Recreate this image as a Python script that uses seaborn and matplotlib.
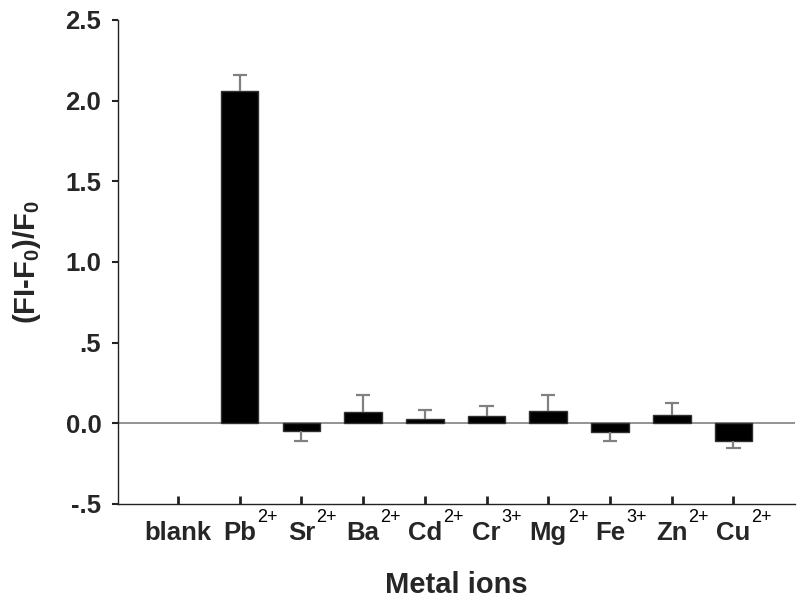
import matplotlib
matplotlib.use("Agg")
import matplotlib.pyplot as plt
import seaborn as sns
import pandas as pd

ions = ["blank", "Pb", "Sr", "Ba", "Cd", "Cr", "Mg", "Fe", "Zn", "Cu"]
charges = ["", "2+", "2+", "2+", "2+", "3+", "2+", "3+", "2+", "2+"]
values = [0.0, 2.06, -0.05, 0.068, 0.029, 0.045, 0.074, -0.056, 0.05, -0.107]
errors = [0.0, 0.10, 0.06, 0.108, 0.054, 0.065, 0.102, 0.054, 0.076, 0.048]
ytick_vals = [-0.5, 0.0, 0.5, 1.0, 1.5, 2.0, 2.5]
ytick_labels = ["-.5", "0.0", ".5", "1.0", "1.5", "2.0", "2.5"]

sns.set_theme(style="ticks")
plt.rcParams["font.family"] = ["Liberation Sans", "DejaVu Sans"]
plt.rcParams["font.weight"] = "bold"
plt.rcParams["mathtext.fontset"] = "custom"
plt.rcParams["mathtext.rm"] = "Liberation Sans:bold"
plt.rcParams["mathtext.it"] = "Liberation Sans:bold"
plt.rcParams["mathtext.bf"] = "Liberation Sans:bold"

df = pd.DataFrame({"ion": ions, "value": values, "err": errors})

fig = plt.figure(figsize=(8, 6.04), dpi=100)
ax = fig.add_axes([0.1475, 0.1656, 0.8465, 0.8013])

ax.axhline(0, color="#808080", lw=1.2, zorder=1)
sns.barplot(data=df, x="ion", y="value", order=ions, color="black", width=0.61,
            edgecolor="#303030", linewidth=1.0, errorbar=None, ax=ax, zorder=2)
for p in ax.patches:
    if p.get_height() == 0:
        p.set_linewidth(0)

cap_half = 0.115
for i, (v, e) in enumerate(zip(values, errors)):
    if e <= 0:
        continue
    end = v + e if v >= 0 else v - e
    ax.vlines(i, v, end, color="#808080", lw=1.6, zorder=3)
    ax.hlines(end, i - cap_half, i + cap_half, color="#808080", lw=1.6, zorder=3)

ax.set_xlim(-0.97, 10.0)
ax.set_ylim(-0.5, 2.5)
ax.set_yticks(ytick_vals)
ax.set_yticklabels(ytick_labels)
ax.tick_params(axis="y", direction="out", length=4, width=1.5, labelsize=18.5, pad=8,
               color="#222222")
ax.tick_params(axis="x", direction="in", length=6, width=2, labelsize=18.5, pad=12,
               color="#222222")
for lab in ax.get_xticklabels() + ax.get_yticklabels():
    lab.set_fontweight("bold")

sns.despine(ax=ax)
for s in ["left", "bottom"]:
    ax.spines[s].set_linewidth(1.0)
    ax.spines[s].set_color("#222222")

ax.set_xlabel("Metal ions", fontsize=21, fontweight="bold", labelpad=19)
ax.set_ylabel("(FI-F$_0$)/F$_0$", fontsize=21, fontweight="bold", labelpad=16)

# superscript charges placed just after each base label
fig.canvas.draw()
renderer = fig.canvas.get_renderer()
for lab, ch in zip(ax.get_xticklabels(), charges):
    if not ch:
        continue
    bb = lab.get_window_extent(renderer)
    fig.text(bb.x1 + 1, bb.y1 - 1, ch, transform=None, fontsize=13,
             fontweight="normal", ha="left", va="baseline", color="black")

fig.savefig("out.png", dpi=100, facecolor="white")
